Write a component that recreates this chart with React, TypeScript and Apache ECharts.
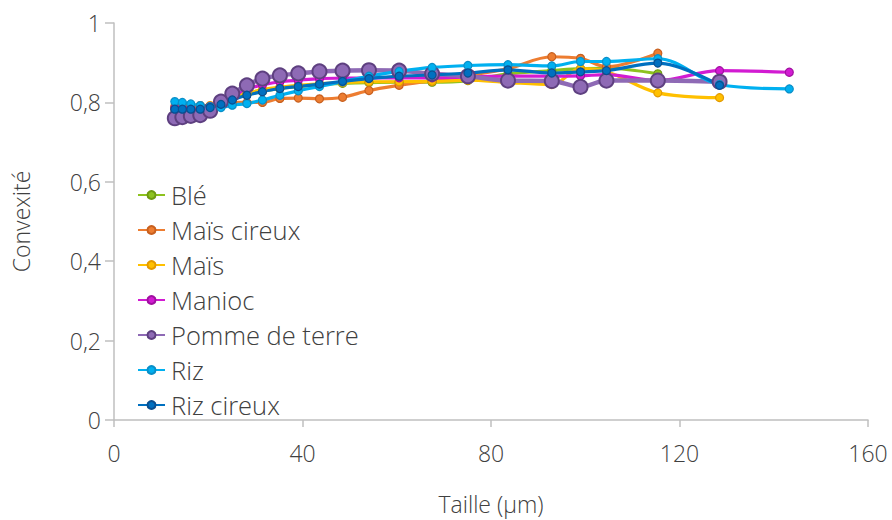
import React, { useEffect, useRef } from "react";
import * as echarts from "echarts";

const sizes = [12.9, 14.5, 16.3, 18.3, 20.4, 22.7, 25.1, 28.2, 31.5, 35.2, 39.1, 43.6, 48.5, 54.1, 60.5, 67.5, 75.1, 83.6, 92.9, 99.0, 104.5, 115.4, 128.5, 143.3];

const ble = [0.783, 0.783, 0.784, 0.785, 0.79, 0.797, 0.808, 0.82, 0.828, 0.835, 0.84, 0.845, 0.848, 0.85, 0.851, 0.851, 0.855, 0.872, 0.88, 0.885, 0.886, 0.872];
const maisCireux = [0.79, 0.79, 0.79, 0.792, 0.79, 0.797, 0.8, 0.8, 0.8, 0.81, 0.811, 0.809, 0.813, 0.83, 0.843, 0.855, 0.868, 0.885, 0.915, 0.911, 0.89, 0.924];
const mais = [0.785, 0.785, 0.786, 0.787, 0.792, 0.8, 0.812, 0.823, 0.832, 0.838, 0.843, 0.847, 0.85, 0.852, 0.852, 0.853, 0.856, 0.85, 0.845, 0.885, 0.878, 0.824, 0.812];
const manioc = [0.785, 0.785, 0.785, 0.786, 0.79, 0.8, 0.815, 0.834, 0.844, 0.852, 0.856, 0.86, 0.861, 0.862, 0.862, 0.862, 0.864, 0.866, 0.866, 0.867, 0.87, 0.855, 0.88, 0.876];
const pommeDeTerre = [0.76, 0.763, 0.766, 0.768, 0.779, 0.802, 0.822, 0.843, 0.86, 0.868, 0.873, 0.878, 0.88, 0.881, 0.88, 0.872, 0.866, 0.855, 0.854, 0.839, 0.855, 0.855, 0.852];
const riz = [0.802, 0.8, 0.796, 0.792, 0.789, 0.787, 0.793, 0.797, 0.806, 0.818, 0.829, 0.84, 0.852, 0.866, 0.878, 0.888, 0.893, 0.895, 0.892, 0.903, 0.903, 0.91, 0.845, 0.834];
const rizCireux = [0.783, 0.783, 0.783, 0.783, 0.787, 0.795, 0.806, 0.818, 0.827, 0.835, 0.84, 0.846, 0.853, 0.86, 0.866, 0.869, 0.874, 0.882, 0.874, 0.877, 0.88, 0.899, 0.843];

const seriesNames = ["Blé", "Maïs cireux", "Maïs", "Manioc", "Pomme de terre", "Riz", "Riz cireux"];
const seriesValues = [ble, maisCireux, mais, manioc, pommeDeTerre, riz, rizCireux];
const lineColors = ["#8DC21F", "#ED7D31", "#FFC000", "#D21BD2", "#8E6AB5", "#00B0F0", "#0070C0"];
const borderColors = ["#6E9A12", "#C8601F", "#E39A00", "#A010A0", "#5E4080", "#0A8FC8", "#0A4F90"];

const xTicks = [0, 40, 80, 120, 160];
const yTicks = [0, 0.2, 0.4, 0.6, 0.8, 1];

export default function App() {
  const ref = useRef<HTMLDivElement>(null);
  useEffect(() => {
    if (!ref.current) return;
    const chart = echarts.init(ref.current, null, { renderer: "svg" });
    const font = "'Open Sans', sans-serif";
    const textColor = "#404040";
    const weight = 300;
    const series = seriesNames.map((name, i) => {
      const big = i === 4;
      return {
        name,
        type: "line",
        smooth: 0.35,
        data: seriesValues[i].map((v, j) => [sizes[j], v]),
        symbol: "circle",
        symbolSize: big ? 14 : 8,
        lineStyle: { color: lineColors[i], width: big ? 4.5 : 3.2 },
        itemStyle: { color: lineColors[i], borderColor: borderColors[i], borderWidth: big ? 2 : 1.2 },
        emphasis: { disabled: true },
      };
    });
    chart.setOption({
      animation: false,
      textStyle: { fontFamily: font },
      grid: { left: 114, right: 24, top: 23, bottom: 95, containLabel: false },
      legend: {
        orient: "vertical",
        left: 132,
        top: 177,
        itemGap: 9,
        itemWidth: 27,
        itemHeight: 10,
        data: seriesNames,
        textStyle: { fontSize: 25.5, color: textColor, fontFamily: font, fontWeight: weight, padding: [0, 0, 0, 1] },
      },
      xAxis: {
        type: "value",
        min: xTicks[0],
        max: xTicks[xTicks.length - 1],
        interval: 40,
        name: "Taille (µm)",
        nameLocation: "middle",
        nameGap: 72,
        nameTextStyle: { fontSize: 23, color: textColor, fontFamily: font, fontWeight: weight },
        axisLine: { show: true, lineStyle: { color: "#BFBFBF", width: 1.5 } },
        axisTick: { show: true, length: 7, lineStyle: { color: "#BFBFBF", width: 1.5 } },
        axisLabel: { fontSize: 23, color: textColor, margin: 21, fontFamily: font, fontWeight: weight },
        splitLine: { show: false },
      },
      yAxis: {
        type: "value",
        min: yTicks[0],
        max: yTicks[yTicks.length - 1],
        interval: 0.2,
        name: "Convexité",
        nameLocation: "middle",
        nameGap: 82,
        nameRotate: 90,
        nameTextStyle: { fontSize: 23, color: textColor, fontFamily: font, fontWeight: weight },
        axisLine: { show: true, lineStyle: { color: "#BFBFBF", width: 1.5 } },
        axisTick: { show: true, length: 9, lineStyle: { color: "#BFBFBF", width: 1.5 } },
        axisLabel: {
          fontSize: 23,
          color: textColor,
          margin: 13,
          fontFamily: font,
          fontWeight: weight,
          formatter: (v: number) => (v === 0 || v === 1 ? String(v) : v.toFixed(1).replace(".", ",")),
        },
        splitLine: { show: false },
      },
      series,
    });
    return () => chart.dispose();
  }, []);
  return (
    <div
      ref={ref}
      style={{ width: 892, height: 520, position: "absolute", left: 0, top: 0, overflow: "hidden", background: "#fff" }}
    />
  );
}
